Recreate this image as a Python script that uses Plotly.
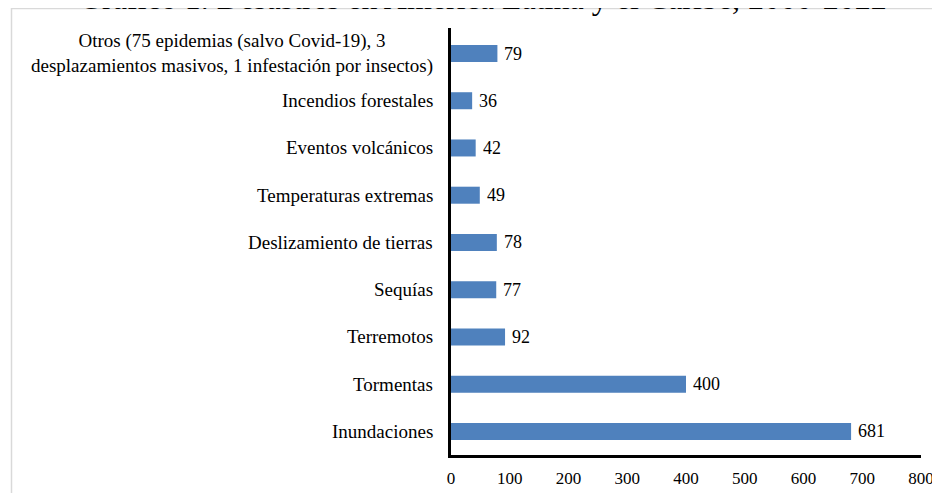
import plotly.graph_objects as go

title_text = "Gráfico 1. Desastres en América Latina y el Caribe, 2000-2022"
categories = [
    "Inundaciones",
    "Tormentas",
    "Terremotos",
    "Sequías",
    "Deslizamiento de tierras",
    "Temperaturas extremas",
    "Eventos volcánicos",
    "Incendios forestales",
    "Otros (75 epidemias (salvo Covid-19), 3<br>desplazamientos masivos, 1 infestación por insectos)",
]
values = [681, 400, 92, 77, 78, 49, 42, 36, 79]
x_ticks = [0, 100, 200, 300, 400, 500, 600, 700, 800]

FONT = "Liberation Serif, Times New Roman, serif"
BAR = "#4F81BD"

W, H = 940, 493
L, R, T, B = 443, 27, 20, 46
PW, PH = W - L - R, H - T - B

def px_x(p):
    return (p - L) / PW

def px_y(p):
    return (H - B - p) / PH

fig = go.Figure()
fig.add_trace(go.Bar(
    x=values, y=categories, orientation="h",
    marker=dict(color=BAR, line=dict(width=0)),
    width=0.36, hoverinfo="skip",
))

annotations = []
for c, v in zip(categories, values):
    annotations.append(dict(
        x=v, y=c, xref="x", yref="y", text=str(v), showarrow=False,
        xanchor="left", xshift=5, font=dict(family=FONT, size=18, color="black"),
    ))
    annotations.append(dict(
        x=0, y=c, xref="paper", yref="y", text=c, showarrow=False,
        xanchor="right", xshift=-16, align="center",
        font=dict(family=FONT, size=19, color="black"),
    ))
annotations.append(dict(
    x=px_x(475), y=1.0, xref="paper", yref="paper", text=title_text, showarrow=False,
    xanchor="center", yanchor="middle", yshift=30,
    font=dict(family=FONT, size=32, color="black"),
))

fig.update_layout(
    width=W, height=H,
    margin=dict(l=L, r=R, t=T, b=B, autoexpand=False),
    paper_bgcolor="white", plot_bgcolor="white",
    showlegend=False,
    annotations=annotations,
    shapes=[dict(
        type="rect", xref="paper", yref="paper",
        x0=px_x(3.5), x1=px_x(960), y0=px_y(520), y1=px_y(0.5),
        line=dict(color="#d9d9d9", width=1.5), fillcolor="rgba(0,0,0,0)", layer="below",
    )],
    xaxis=dict(
        range=[0, 800], tickvals=x_ticks, ticktext=[str(t) for t in x_ticks],
        showgrid=False, zeroline=False, showline=True, linecolor="black", linewidth=3,
        ticks="outside", ticklen=6, tickcolor="rgba(0,0,0,0)", automargin=False,
        tickfont=dict(family=FONT, size=17, color="black"),
    ),
    yaxis=dict(
        categoryorder="array", categoryarray=categories,
        showticklabels=False, showgrid=False, zeroline=False, automargin=False,
        showline=True, linecolor="black", linewidth=3, ticks="",
    ),
)

fig.write_html("out.html")
